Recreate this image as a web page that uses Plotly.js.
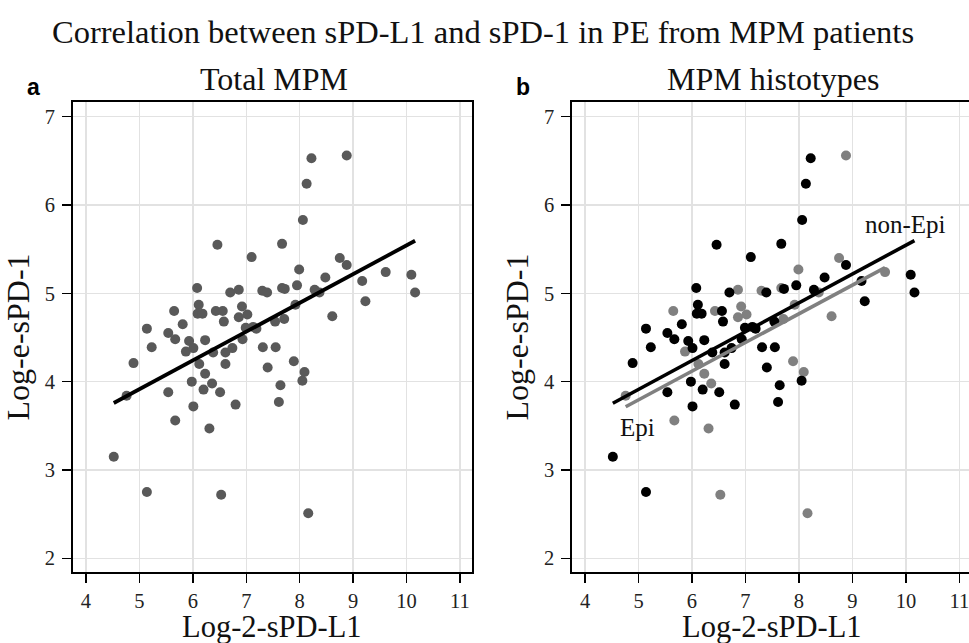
<!DOCTYPE html>
<html><head><meta charset="utf-8">
<script src="https://cdn.plot.ly/plotly-3.0.1.min.js"></script>
<style>html,body{margin:0;padding:0;background:#fff}#chart{width:969px;height:643px}</style>
</head><body><div id="chart"></div>
<script>
// Log-2 sPD-L1 (x) and Log-e sPD-1 (y) per patient, histotype: N = non-Epi, E = Epi
const sPDL1 = [8.22,8.88,8.13,8.06,6.46,7.67,7.10,8.75,8.88,7.99,9.61,10.09,10.16,9.23,9.17,8.48,7.95,8.28,8.37,7.67,
  7.72,7.30,7.39,8.61,7.92,7.71,7.54,7.19,7.13,6.99,6.93,7.02,6.86,6.92,6.70,6.86,6.08,6.11,6.09,6.18,
  6.43,6.56,6.58,6.23,5.81,5.65,5.54,5.67,5.93,5.14,5.23,5.87,6.01,6.38,6.61,6.74,7.31,7.55,7.89,4.89,
  6.12,6.61,6.23,5.98,6.36,6.20,5.54,6.51,7.40,8.09,8.05,7.64,7.61,6.80,6.01,5.67,6.31,4.76,4.52,5.14,
  6.53,8.16];
const sPD1 = [6.53,6.56,6.24,5.83,5.55,5.56,5.41,5.40,5.32,5.27,5.24,5.21,5.01,4.91,5.14,5.18,5.09,5.04,5.01,5.06,
  5.05,5.03,5.01,4.74,4.87,4.71,4.68,4.60,4.62,4.61,4.48,4.76,4.73,4.85,5.01,5.04,5.06,4.87,4.77,4.77,
  4.80,4.80,4.68,4.47,4.65,4.80,4.55,4.48,4.46,4.60,4.39,4.34,4.38,4.33,4.33,4.38,4.39,4.39,4.23,4.21,
  4.20,4.20,4.09,4.00,3.98,3.91,3.88,3.88,4.16,4.11,4.01,3.96,3.77,3.74,3.72,3.56,3.47,3.84,3.15,2.75,
  2.72,2.51];
const histotype = ['N','E','N','N','N','N','N','E','N','E','E','N','N','N','N','N','N','N','E','E',
  'N','E','N','E','E','E','N','N','N','N','N','E','E','E','N','E','N','N','N','N',
  'E','N','N','N','N','E','N','N','N','N','N','E','N','N','N','N','N','N','E','N',
  'E','N','E','N','E','N','N','N','N','E','N','N','N','N','N','E','E','E','N','N',
  'E','E'];
// regression lines: [intercept, slope]
const fitTotal = [2.287, 0.3256];
const fitNonEpi = [2.279, 0.3266];
const fitEpi = [2.170, 0.3248];
const xTicks = [4,5,6,7,8,9,10,11];
const yTicks = [2,3,4,5,6,7];

const W = 969, H = 643;
const pick = g => { const xs=[], ys=[]; sPDL1.forEach((v,i)=>{ if(histotype[i]===g){xs.push(v); ys.push(sPD1[i]);} }); return {xs, ys}; };
const fitLine = (xs, f) => { const lo = Math.min(...xs), hi = Math.max(...xs); return {x:[lo,hi], y:[f[0]+f[1]*lo, f[0]+f[1]*hi]}; };
const epi = pick('E'), non = pick('N');
const lTot = fitLine(sPDL1, fitTotal), lNon = fitLine(non.xs, fitNonEpi), lEpi = fitLine(epi.xs, fitEpi);

const traces = [
  {x: sPDL1, y: sPD1, type:'scatter', mode:'markers', xaxis:'x', yaxis:'y', marker:{color:'#595959', size:10}, showlegend:false, hoverinfo:'skip'},
  {x: lTot.x, y: lTot.y, type:'scatter', mode:'lines', xaxis:'x', yaxis:'y', line:{color:'#000', width:3.8}, showlegend:false},
  {x: epi.xs, y: epi.ys, type:'scatter', mode:'markers', xaxis:'x2', yaxis:'y2', marker:{color:'#808080', size:10}, showlegend:false},
  {x: non.xs, y: non.ys, type:'scatter', mode:'markers', xaxis:'x2', yaxis:'y2', marker:{color:'#000000', size:10}, showlegend:false},
  {x: lNon.x, y: lNon.y, type:'scatter', mode:'lines', xaxis:'x2', yaxis:'y2', line:{color:'#000', width:3.6}, showlegend:false},
  {x: lEpi.x, y: lEpi.y, type:'scatter', mode:'lines', xaxis:'x2', yaxis:'y2', line:{color:'#808080', width:3.6}, showlegend:false}
];

const serif = "'Liberation Serif', 'Times New Roman', serif";
const axBase = {showline:true, linecolor:'#000', linewidth:2, ticks:'outside', ticklen:9, tickwidth:1.5, tickcolor:'#000',
  showgrid:true, gridcolor:'#e2e2e2', gridwidth:1.5, zeroline:false, ticklabeloverflow:'allow',
  tickfont:{family:serif, size:20.5, color:'#222'}};
const xAx = Object.assign({}, axBase, {tickvals:xTicks, mirror:true, title:{text:''}});
const yAx = Object.assign({}, axBase, {tickvals:yTicks, ticklabelstandoff:3, range:[1.845, 7.166], domain:[71/H, 541/H],
  title:{text:'Log-e-sPD-1', font:{family:serif, size:32, color:'#111'}, standoff:6}});
const xTitle = {family:serif, size:30.5, color:'#111'};
const layout = {
  width:W, height:H, margin:{l:0,r:0,t:0,b:0}, paper_bgcolor:'#fff', plot_bgcolor:'#fff',
  title:{text:'Correlation between sPD-L1 and sPD-1 in PE from MPM patients', x:483/W, xanchor:'center', y:1-32/H, yanchor:'middle',
    font:{family:serif, size:32.5, color:'#111'}},
  xaxis: Object.assign({}, xAx, {domain:[73/W, 472/W], range:[3.757, 11.225], anchor:'y'}),
  yaxis: Object.assign({}, yAx, {anchor:'x', mirror:true}),
  xaxis2: Object.assign({}, xAx, {domain:[572.3/W, 1], range:[3.762, 11.18], anchor:'y2'}),
  yaxis2: Object.assign({}, yAx, {anchor:'x2', mirror:false}),
  annotations:[
    {text:'Log-2-sPD-L1', xref:'paper', yref:'paper', x:272/W, y:-3/H, xanchor:'center', yanchor:'bottom', showarrow:false, font:xTitle},
    {text:'Log-2-sPD-L1', xref:'paper', yref:'paper', x:771.5/W, y:-3/H, xanchor:'center', yanchor:'bottom', showarrow:false, font:xTitle},
    {text:'Total MPM', xref:'paper', yref:'paper', x:273.5/W, y:1-79/H, xanchor:'center', yanchor:'middle', showarrow:false, font:{family:serif, size:32, color:'#111'}},
    {text:'MPM histotypes', xref:'paper', yref:'paper', x:772.5/W, y:1-79/H, xanchor:'center', yanchor:'middle', showarrow:false, font:{family:serif, size:32, color:'#111'}},
    {text:'<b>a</b>', xref:'paper', yref:'paper', x:33/W, y:1-87/H, xanchor:'center', yanchor:'middle', showarrow:false, font:{family:"'Liberation Sans', Arial, sans-serif", size:23, color:'#000'}},
    {text:'<b>b</b>', xref:'paper', yref:'paper', x:523/W, y:1-87/H, xanchor:'center', yanchor:'middle', showarrow:false, font:{family:"'Liberation Sans', Arial, sans-serif", size:23, color:'#000'}},
    {text:'Epi', xref:'x2', yref:'y2', x:4.99, y:3.48, xanchor:'center', yanchor:'middle', showarrow:false, font:{family:serif, size:25, color:'#111'}},
    {text:'non-Epi', xref:'x2', yref:'y2', x:10.0, y:5.78, xanchor:'center', yanchor:'middle', showarrow:false, font:{family:serif, size:25, color:'#111'}}
  ]
};
Plotly.newPlot('chart', traces, layout, {displayModeBar:false, staticPlot:true});
</script></body></html>
